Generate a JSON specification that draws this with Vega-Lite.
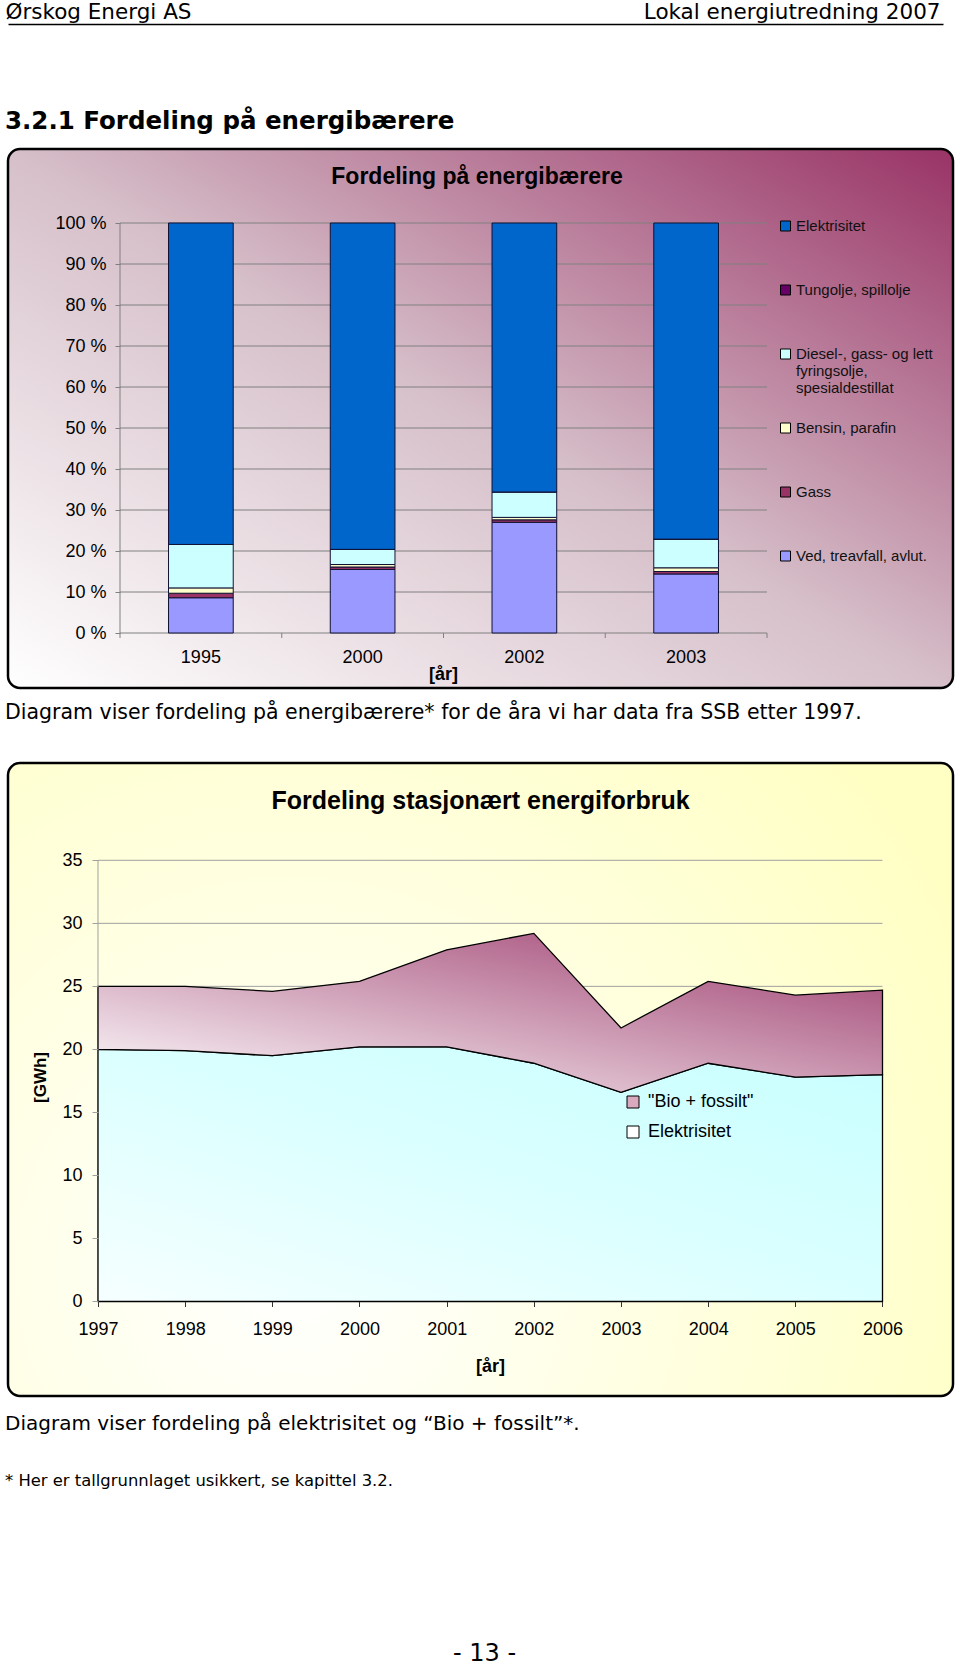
{
  "$schema": "https://vega.github.io/schema/vega-lite/v6.json",
  "background": "#ffffff",
  "padding": {"left": 5, "top": 1, "right": 0, "bottom": 0},
  "bounds": "flush",
  "spacing": 0,
  "resolve": {"scale": {"color": "independent", "fill": "independent"}, "legend": {"color": "independent", "fill": "independent"}},
  "config": {
    "view": {"stroke": null},
    "font": "Liberation Sans",
    "axis": {"labelFont": "Liberation Sans", "titleFont": "Liberation Sans", "labelColor": "#000", "titleColor": "#000", "zindex": 1},
    "legend": {"labelFont": "Liberation Sans"},
    "title": {"font": "DejaVu Sans", "color": "#000", "fontWeight": "normal"}
  },
  "vconcat": [
    {
      "width": 935,
      "height": 125,
      "data": {"values": [{"label": "Ørskog Energi AS"}, {"label": "Lokal energiutredning 2007"}]},
      "mark": {"type": "point", "opacity": 0},
      "encoding": {
        "x": {
          "field": "label", "type": "nominal", "sort": null,
          "scale": {"type": "point", "padding": 0},
          "axis": {
            "orient": "top", "title": null, "ticks": false, "grid": false, "zindex": 1,
            "domain": true, "domainColor": "#000", "domainWidth": 1.5,
            "labelFont": "DejaVu Sans", "labelFontSize": 21.5, "labelColor": "#000",
            "labelPadding": 1, "labelAngle": 0, "labelOffset": -3,
            "labelOverlap": false, "labelBound": false, "labelFlush": false, "labelLimit": 600,
            "labelAlign": {"condition": {"test": "datum.value === 'Ørskog Energi AS'", "value": "left"}, "value": "right"}
          }
        }
      },
      "title": {"text": "3.2.1 Fordeling på energibærere", "orient": "bottom", "anchor": "start", "frame": "group", "offset": -27, "baseline": "middle", "dx": -3, "font": "DejaVu Sans", "fontSize": 24.5, "fontWeight": "bold", "color": "#000"}
    },
    {
      "width": 945,
      "height": 539,
      "view": {
        "fill": {"gradient": "linear", "x1": 0, "y1": 1, "x2": 1, "y2": 0, "stops": [{"offset": 0, "color": "#ffffff"}, {"offset": 0.5, "color": "#d6bfc9"}, {"offset": 1, "color": "#993366"}]},
        "stroke": "#000", "strokeWidth": 2.5, "cornerRadius": 12
      },
      "title": {"text": "Fordeling på energibærere", "anchor": "middle", "frame": "group", "offset": -50.5, "baseline": "middle", "dx": -3.5, "font": "Liberation Sans", "fontSize": 23, "fontWeight": "bold", "color": "#000"},
      "layer": [
        {
          "data": {"values": [{"v": 0}, {"v": 10}, {"v": 20}, {"v": 30}, {"v": 40}, {"v": 50}, {"v": 60}, {"v": 70}, {"v": 80}, {"v": 90}, {"v": 100}]},
          "mark": {"type": "rule", "color": "#808080", "strokeWidth": 1},
          "encoding": {
            "y": {
              "field": "v", "type": "quantitative",
              "scale": {"domain": [-13.4146, 118.0488], "nice": false, "zero": false},
              "axis": {
                "orient": "left", "offset": -112, "values": [0, 10, 20, 30, 40, 50, 60, 70, 80, 90, 100],
                "labelExpr": "datum.value + ' %'", "domain": false, "grid": false, "ticks": true, "zindex": 1,
                "tickSize": 5, "tickColor": "#808080", "labelFontSize": 18, "labelPadding": 9,
                "labelColor": "#000", "labelFlush": false, "labelOverlap": false, "title": null
              }
            },
            "x": {"datum": "1995", "type": "nominal", "bandPosition": -0.75,
              "scale": {"type": "band", "domain": ["1995", "2000", "2002", "2003"], "range": [112, 759], "paddingInner": 0.6, "paddingOuter": 0.3, "align": 0.5, "round": false}},
            "x2": {"datum": "2003", "bandPosition": 1.75}
          }
        },
        {
          "data": {"values": [{}]},
          "mark": {"type": "rule", "color": "#808080", "strokeWidth": 1},
          "encoding": {
            "x": {"datum": "1995", "type": "nominal", "bandPosition": -0.75},
            "y": {"datum": 0, "type": "quantitative"},
            "y2": {"datum": 100}
          }
        },
        {
          "data": {"values": [{"year": "1995"}, {"year": "2000"}, {"year": "2002"}, {"year": "2003"}]},
          "mark": {"type": "rule", "color": "#808080", "strokeWidth": 1, "y2Offset": 5},
          "encoding": {
            "x": {"field": "year", "type": "nominal", "bandPosition": -0.75},
            "y": {"datum": 0, "type": "quantitative"},
            "y2": {"datum": 0}
          }
        },
        {
          "data": {"values": [{}]},
          "mark": {"type": "rule", "color": "#808080", "strokeWidth": 1, "y2Offset": 5},
          "encoding": {
            "x": {"datum": "2003", "type": "nominal", "bandPosition": 1.75},
            "y": {"datum": 0, "type": "quantitative"},
            "y2": {"datum": 0}
          }
        },
        {
          "data": {"values": [
            {"year": "1995", "carrier": "Ved, treavfall, avlut.", "share": 8.6},
            {"year": "1995", "carrier": "Gass", "share": 1.1},
            {"year": "1995", "carrier": "Bensin, parafin", "share": 1.3},
            {"year": "1995", "carrier": "Diesel-, gass- og lett fyringsolje, spesialdestillat", "share": 10.6},
            {"year": "1995", "carrier": "Tungolje, spillolje", "share": 0},
            {"year": "1995", "carrier": "Elektrisitet", "share": 78.4},
            {"year": "2000", "carrier": "Ved, treavfall, avlut.", "share": 15.5},
            {"year": "2000", "carrier": "Gass", "share": 0.6},
            {"year": "2000", "carrier": "Bensin, parafin", "share": 0.6},
            {"year": "2000", "carrier": "Diesel-, gass- og lett fyringsolje, spesialdestillat", "share": 3.7},
            {"year": "2000", "carrier": "Tungolje, spillolje", "share": 0},
            {"year": "2000", "carrier": "Elektrisitet", "share": 79.6},
            {"year": "2002", "carrier": "Ved, treavfall, avlut.", "share": 27.0},
            {"year": "2002", "carrier": "Gass", "share": 0.6},
            {"year": "2002", "carrier": "Bensin, parafin", "share": 0.6},
            {"year": "2002", "carrier": "Diesel-, gass- og lett fyringsolje, spesialdestillat", "share": 6.2},
            {"year": "2002", "carrier": "Tungolje, spillolje", "share": 0},
            {"year": "2002", "carrier": "Elektrisitet", "share": 65.6},
            {"year": "2003", "carrier": "Ved, treavfall, avlut.", "share": 14.4},
            {"year": "2003", "carrier": "Gass", "share": 0.6},
            {"year": "2003", "carrier": "Bensin, parafin", "share": 0.9},
            {"year": "2003", "carrier": "Diesel-, gass- og lett fyringsolje, spesialdestillat", "share": 7.0},
            {"year": "2003", "carrier": "Tungolje, spillolje", "share": 0},
            {"year": "2003", "carrier": "Elektrisitet", "share": 77.1}
          ]},
          "transform": [{"stack": "share", "groupby": ["year"], "as": ["y0", "y1"]}],
          "mark": {"type": "bar", "stroke": "#111133", "strokeWidth": 1},
          "encoding": {
            "x": {
              "field": "year", "type": "nominal",
              "axis": {
                "orient": "bottom", "offset": -55, "domain": false, "grid": false, "ticks": false, "zindex": 1,
                "labelFontSize": 18, "labelPadding": 15, "labelAngle": 0, "labelColor": "#000",
                "labelAlign": "center", "labelBaseline": "top",
                "title": "[år]", "titleFontSize": 18, "titleFontWeight": "bold",
                "titleX": 435, "titleY": 41, "titleBaseline": "middle", "titleAlign": "center"
              }
            },
            "y": {"field": "y1", "type": "quantitative"},
            "y2": {"field": "y0"},
            "color": {
              "field": "carrier", "type": "nominal",
              "scale": {
                "domain": ["Elektrisitet", "Tungolje, spillolje", "Diesel-, gass- og lett fyringsolje, spesialdestillat", "Bensin, parafin", "Gass", "Ved, treavfall, avlut."],
                "range": ["#0066cc", "#660066", "#ccffff", "#ffffcc", "#993366", "#9999ff"]
              },
              "legend": {
                "orient": "none", "legendX": 770, "legendY": 45, "title": null,
                "symbolType": "square", "symbolSize": 100, "symbolStrokeColor": "#000", "symbolStrokeWidth": 1,
                "labelFontSize": 15, "labelColor": "#111", "labelFont": "Liberation Sans",
                "clipHeight": 64, "rowPadding": 0, "labelOffset": 3, "padding": 0, "labelLimit": 400,
                "labelExpr": "datum.label == 'Diesel-, gass- og lett fyringsolje, spesialdestillat' ? ['Diesel-, gass- og lett', 'fyringsolje,', 'spesialdestillat'] : datum.label"
              }
            }
          }
        }
      ]
    },
    {
      "width": 945,
      "height": 75,
      "data": {"values": [{"t": ""}]},
      "mark": {"type": "text"},
      "encoding": {"text": {"field": "t"}},
      "title": {"text": "Diagram viser fordeling på energibærere* for de åra vi har data fra SSB etter 1997.", "anchor": "start", "frame": "group", "offset": -45, "baseline": "middle", "dx": -3, "font": "DejaVu Sans", "fontSize": 20.5, "color": "#000"}
    },
    {
      "width": 945,
      "height": 633,
      "view": {
        "fill": {"gradient": "radial", "x1": 0.3, "y1": 0.7, "r1": 0, "x2": 0.3, "y2": 0.7, "r2": 0.8, "stops": [{"offset": 0, "color": "#ffffff"}, {"offset": 1, "color": "#ffffc4"}]},
        "stroke": "#000", "strokeWidth": 2.5, "cornerRadius": 12
      },
      "title": {"text": "Fordeling stasjonært energiforbruk", "anchor": "middle", "frame": "group", "offset": -62.5, "baseline": "middle", "font": "Liberation Sans", "fontSize": 25, "fontWeight": "bold", "color": "#000"},
      "layer": [
        {
          "data": {"values": [{"v": 0}, {"v": 5}, {"v": 10}, {"v": 15}, {"v": 20}, {"v": 25}, {"v": 30}, {"v": 35}]},
          "mark": {"type": "rule", "color": "#a0a0a0", "strokeWidth": 1},
          "encoding": {
            "y": {
              "field": "v", "type": "quantitative",
              "scale": {"domain": [-7.4966, 42.7185], "nice": false, "zero": false},
              "axis": {
                "orient": "left", "offset": -90, "values": [0, 5, 10, 15, 20, 25, 30, 35], "zindex": 1,
                "domain": false, "grid": false, "ticks": true, "tickSize": 6, "tickColor": "#a0a0a0",
                "labelFontSize": 18, "labelPadding": 10, "labelColor": "#000", "labelFlush": false, "labelOverlap": false,
                "title": "[GWh]", "titleFontSize": 17, "titleFontWeight": "bold", "titleX": -58, "titleY": 314,
                "titleAngle": -90, "titleBaseline": "middle", "titleAlign": "center"
              }
            },
            "x": {"datum": 1997, "type": "quantitative", "scale": {"domain": [1995.9675, 2006.8088], "nice": false, "zero": false}},
            "x2": {"datum": 2006}
          }
        },
        {
          "data": {"values": [{}]},
          "mark": {"type": "rule", "color": "#a0a0a0", "strokeWidth": 1},
          "encoding": {
            "x": {"datum": 1997, "type": "quantitative"},
            "y": {"datum": 0, "type": "quantitative"},
            "y2": {"datum": 35}
          }
        },
        {
          "data": {"name": "energi", "values": [
            {"year": 1997, "series": "Elektrisitet", "value": 20.0}, {"year": 1997, "series": "\"Bio + fossilt\"", "value": 5.0},
            {"year": 1998, "series": "Elektrisitet", "value": 19.9}, {"year": 1998, "series": "\"Bio + fossilt\"", "value": 5.1},
            {"year": 1999, "series": "Elektrisitet", "value": 19.5}, {"year": 1999, "series": "\"Bio + fossilt\"", "value": 5.1},
            {"year": 2000, "series": "Elektrisitet", "value": 20.2}, {"year": 2000, "series": "\"Bio + fossilt\"", "value": 5.2},
            {"year": 2001, "series": "Elektrisitet", "value": 20.2}, {"year": 2001, "series": "\"Bio + fossilt\"", "value": 7.7},
            {"year": 2002, "series": "Elektrisitet", "value": 18.9}, {"year": 2002, "series": "\"Bio + fossilt\"", "value": 10.3},
            {"year": 2003, "series": "Elektrisitet", "value": 16.6}, {"year": 2003, "series": "\"Bio + fossilt\"", "value": 5.1},
            {"year": 2004, "series": "Elektrisitet", "value": 18.9}, {"year": 2004, "series": "\"Bio + fossilt\"", "value": 6.5},
            {"year": 2005, "series": "Elektrisitet", "value": 17.8}, {"year": 2005, "series": "\"Bio + fossilt\"", "value": 6.5},
            {"year": 2006, "series": "Elektrisitet", "value": 18.0}, {"year": 2006, "series": "\"Bio + fossilt\"", "value": 6.7}
          ]},
          "transform": [
            {"stack": "value", "groupby": ["year"], "sort": [{"field": "series", "order": "descending"}], "as": ["y0", "y1"]},
            {"filter": "datum.series == 'Elektrisitet'"}
          ],
          "mark": {
            "type": "area", "interpolate": "linear", "stroke": "#000", "strokeWidth": 1.3,
            "fill": {"gradient": "linear", "x1": 0, "y1": 1, "x2": 1, "y2": 0, "stops": [{"offset": 0, "color": "#f6ffff"}, {"offset": 0.5, "color": "#dbffff"}, {"offset": 1, "color": "#c8ffff"}]}
          },
          "encoding": {
            "x": {
              "field": "year", "type": "quantitative",
              "axis": {
                "orient": "bottom", "offset": -94.5, "values": [1997, 1998, 1999, 2000, 2001, 2002, 2003, 2004, 2005, 2006], "zindex": 1,
                "format": "d", "domain": false, "grid": false, "ticks": true, "tickSize": 5, "tickColor": "#333",
                "labelFontSize": 18, "labelPadding": 14, "labelColor": "#000", "labelFlush": false, "labelOverlap": false, "labelBound": false,
                "title": "[år]", "titleFontSize": 18, "titleFontWeight": "bold", "titleX": 482, "titleY": 64.5, "titleBaseline": "middle", "titleAlign": "center"
              }
            },
            "y": {"field": "y1", "type": "quantitative"},
            "y2": {"field": "y0"}
          }
        },
        {
          "data": {"name": "energi"},
          "transform": [
            {"stack": "value", "groupby": ["year"], "sort": [{"field": "series", "order": "descending"}], "as": ["y0", "y1"]},
            {"filter": "datum.series != 'Elektrisitet'"}
          ],
          "mark": {
            "type": "area", "interpolate": "linear", "stroke": "#000", "strokeWidth": 1.3,
            "fill": {"gradient": "linear", "x1": 0, "y1": 1, "x2": 1, "y2": 0, "stops": [{"offset": 0, "color": "#ffffff"}, {"offset": 1, "color": "#9c3a6b"}]}
          },
          "encoding": {
            "x": {"field": "year", "type": "quantitative"},
            "y": {"field": "y1", "type": "quantitative"},
            "y2": {"field": "y0"}
          }
        },
        {
          "data": {"name": "energi"},
          "mark": {"type": "square", "opacity": 0},
          "encoding": {
            "x": {"field": "year", "type": "quantitative"},
            "y": {"field": "value", "type": "quantitative"},
            "fill": {
              "field": "series", "type": "nominal",
              "scale": {"domain": ["\"Bio + fossilt\"", "Elektrisitet"], "range": ["#d9a9bf", "#ffffff"]},
              "legend": {
                "orient": "none", "legendX": 616, "legendY": 324, "title": null,
                "symbolType": "square", "symbolSize": 144, "symbolStrokeColor": "#000", "symbolStrokeWidth": 1, "symbolOpacity": 1,
                "labelFontSize": 18, "labelColor": "#000", "labelFont": "Liberation Sans",
                "clipHeight": 30, "rowPadding": 0, "labelOffset": 6, "padding": 0, "labelLimit": 300
              }
            }
          }
        }
      ]
    },
    {
      "width": 945,
      "height": 55,
      "data": {"values": [{"t": ""}]},
      "mark": {"type": "text"},
      "encoding": {"text": {"field": "t"}},
      "title": {"text": "Diagram viser fordeling på elektrisitet og “Bio + fossilt”*.", "anchor": "start", "frame": "group", "offset": -48, "baseline": "middle", "dx": -3, "font": "DejaVu Sans", "fontSize": 20, "color": "#000"}
    },
    {
      "width": 945,
      "height": 150,
      "data": {"values": [{"t": ""}]},
      "mark": {"type": "text"},
      "encoding": {"text": {"field": "t"}},
      "title": {"text": "* Her er tallgrunnlaget usikkert, se kapittel 3.2.", "anchor": "start", "frame": "group", "offset": -46.5, "baseline": "middle", "dx": -3, "font": "DejaVu Sans", "fontSize": 16.4, "color": "#000"}
    },
    {
      "width": 945,
      "height": 62,
      "data": {"values": [{"t": ""}]},
      "mark": {"type": "text"},
      "encoding": {"text": {"field": "t"}},
      "title": {"text": "- 13 -", "anchor": "middle", "frame": "group", "offset": -76.5, "baseline": "middle", "dx": 4, "font": "DejaVu Sans", "fontSize": 24, "color": "#000"}
    }
  ]
}
